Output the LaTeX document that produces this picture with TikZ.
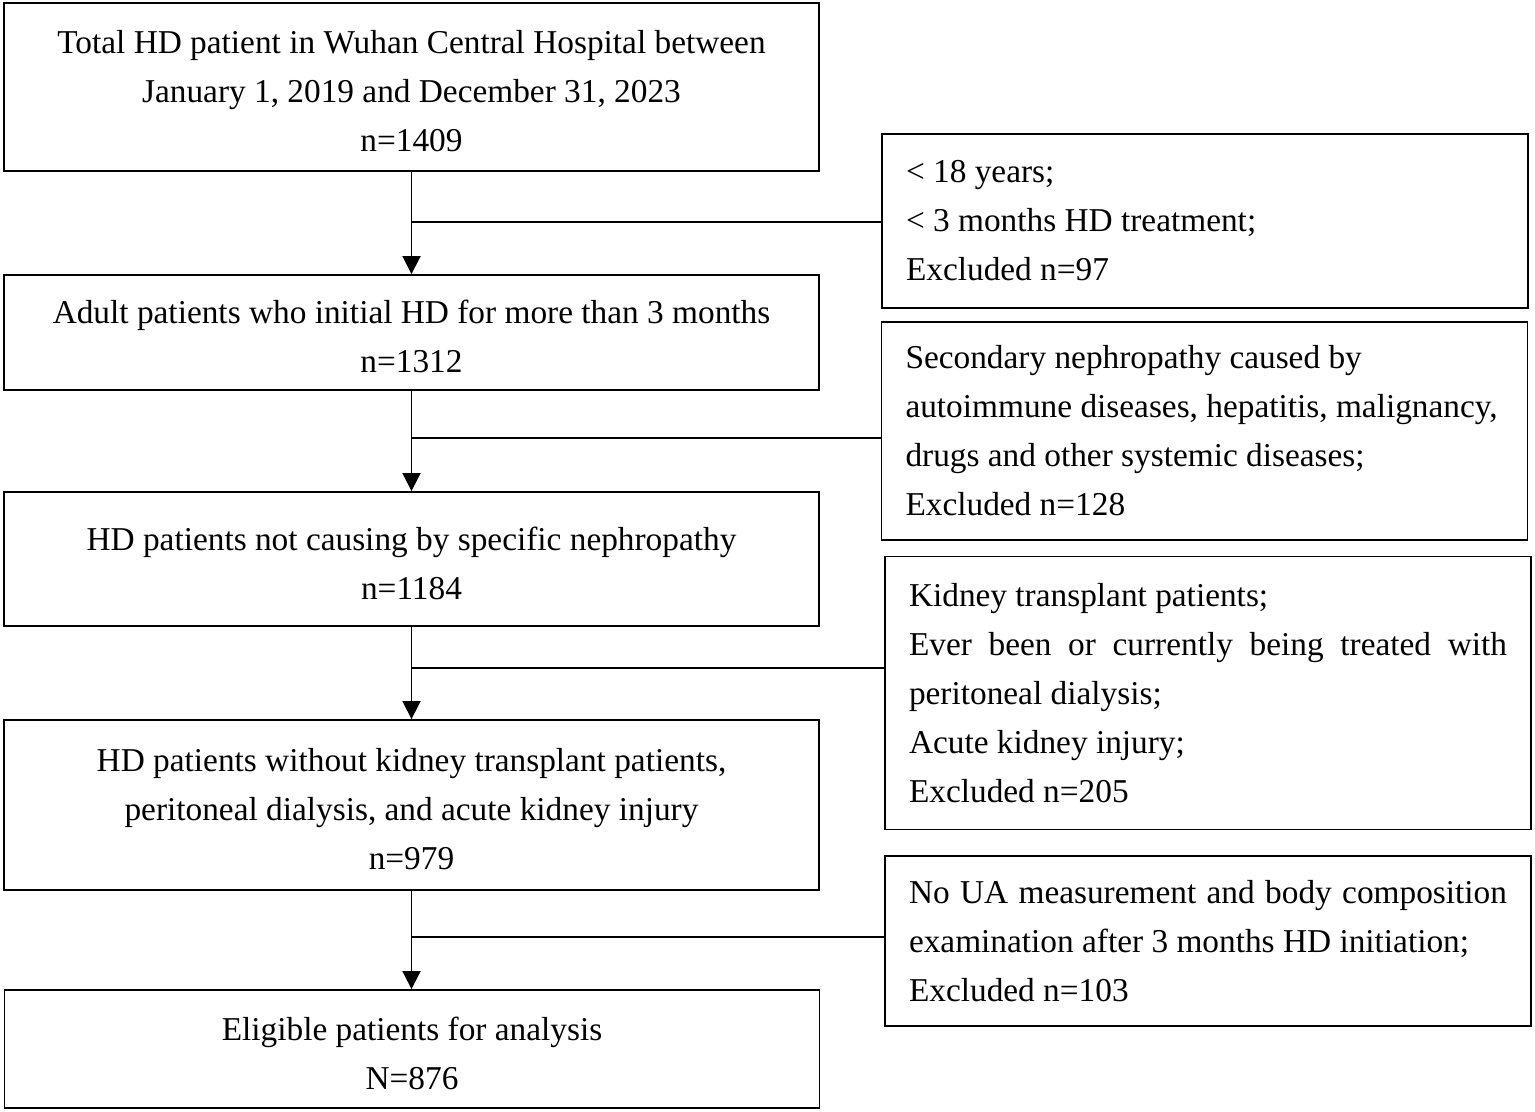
\documentclass[tikz,border=0pt]{standalone}
\usepackage{fontspec}
\setmainfont{Liberation Serif}
\usepackage{tikz}
\usetikzlibrary{arrows.meta}
\tikzset{every picture/.style={line width=1.4pt}}
\newcommand{\boxtop}{\rule{0pt}{24pt}}
\tikzset{
  leftbox/.style={draw, minimum width=611.25pt, inner sep=0pt, align=center,
    font=\fontsize{25pt}{36.75pt}\selectfont},
  rightbox/.style={draw, text width=448.5pt, inner xsep=18pt, inner ysep=0pt, align=justify,
    font=\fontsize{25pt}{36.75pt}\selectfont},
  flow/.style={-{Triangle[width=13.5pt,length=13.5pt]}}
}

\begin{document}
\begin{tikzpicture}[x=0.75pt,y=0.75pt,yscale=-1,xscale=1]
\useasboundingbox (0,0) rectangle (1535,1112);
% Text Node
\node [leftbox, minimum height=126pt] (total) at (411.5,87) {\boxtop Total HD patient in Wuhan Central Hospital between\\January 1, 2019 and December 31, 2023\\n=1409};
% Text Node
\node [leftbox, minimum height=86.25pt] (adult) at (411.5,332.5) {\boxtop Adult patients who initial HD for more than 3 months\\n=1312};
% Text Node
\node [leftbox, minimum height=100.5pt] (nonspec) at (411.5,559) {\boxtop HD patients not causing by specific nephropathy\\n=1184};
% Text Node
\node [leftbox, minimum height=127.5pt] (nokidney) at (411.5,805) {\boxtop HD patients without kidney transplant patients,\\peritoneal dialysis, and acute kidney injury\\n=979};
% Text Node
\node [leftbox, minimum height=88.5pt] (eligible) at (412,1049) {\boxtop Eligible patients for analysis\\N=876};
% Text Node
\node [rightbox, minimum height=130.5pt] (exage) at (1205,221) {\raggedright < 18 years;\\< 3 months HD treatment;\\Excluded n=97};
% Text Node
\node [rightbox, minimum height=163.5pt] (exsecond) at (1204.5,431) {\raggedright Secondary nephropathy caused by\\autoimmune diseases, hepatitis, malignancy,\\drugs and other systemic diseases;\\Excluded n=128};
% Text Node
\node [rightbox, minimum height=204.75pt] (extrans) at (1208,693) {Kidney transplant patients;\\\makebox[448.5pt][s]{Ever been or currently being treated with}\\peritoneal dialysis;\\Acute kidney injury;\\Excluded n=205};
% Text Node
\node [rightbox, minimum height=127.5pt] (exua) at (1208,941) {\makebox[448.5pt][s]{No UA measurement and body composition}\\examination after 3 months HD initiation;\\Excluded n=103};
%Straight Lines
\draw [flow] (total.south) -- (adult.north);
\draw [flow] (adult.south) -- (nonspec.north);
\draw [flow] (nonspec.south) -- (nokidney.north);
\draw [flow] (nokidney.south) -- (nokidney.south |- eligible.north);
%Straight Lines
\coordinate (j1) at (411.5,222);
\coordinate (j2) at (411.5,438);
\coordinate (j3) at (411.5,668);
\coordinate (j4) at (411.5,937);
\draw (j1) -- (j1 -| exage.west);
\draw (j2) -- (j2 -| exsecond.west);
\draw (j3) -- (j3 -| extrans.west);
\draw (j4) -- (j4 -| exua.west);
\end{tikzpicture}
\end{document}
